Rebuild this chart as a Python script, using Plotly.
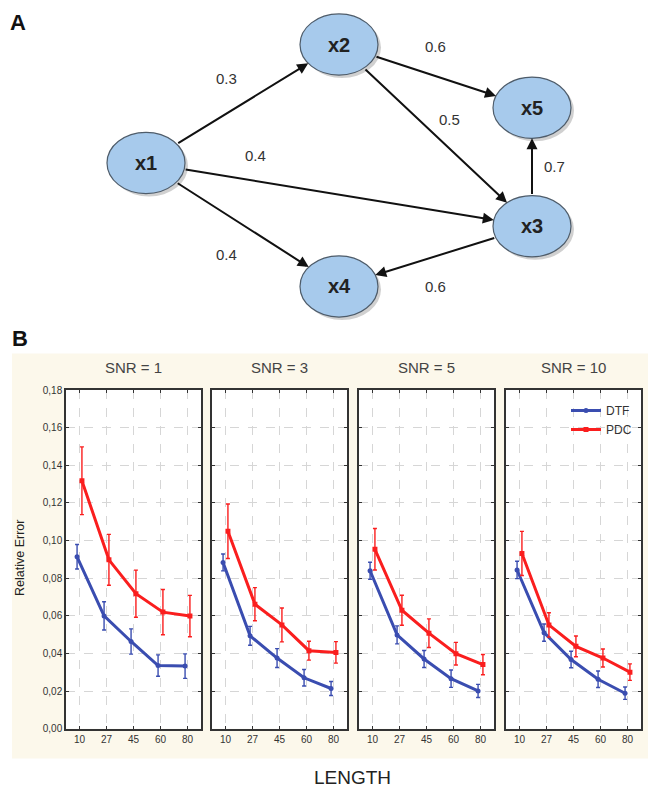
import math
import plotly.graph_objects as go

# ---------------- data: panel B ----------------
lengths = ["10", "27", "45", "60", "80"]
snr_levels = [1, 3, 5, 10]

dtf_snr1 = [0.0914, 0.0600, 0.0464, 0.0336, 0.0333]
dtf_snr3 = [0.0884, 0.0494, 0.0376, 0.0271, 0.0214]
dtf_snr5 = [0.0840, 0.0499, 0.0371, 0.0266, 0.0201]
dtf_snr10 = [0.0844, 0.0511, 0.0368, 0.0263, 0.0189]

dtf_err_snr1 = [0.0065, 0.0075, 0.0067, 0.0057, 0.0065]
dtf_err_snr3 = [0.0045, 0.0050, 0.0050, 0.0044, 0.0037]
dtf_err_snr5 = [0.0045, 0.0048, 0.0045, 0.0046, 0.0035]
dtf_err_snr10 = [0.0046, 0.0046, 0.0044, 0.0044, 0.0033]

pdc_snr1 = [0.1318, 0.0898, 0.0718, 0.0620, 0.0599]
pdc_snr3 = [0.1050, 0.0662, 0.0552, 0.0415, 0.0406]
pdc_snr5 = [0.0954, 0.0630, 0.0508, 0.0399, 0.0341]
pdc_snr10 = [0.0932, 0.0552, 0.0438, 0.0376, 0.0301]

pdc_err_snr1 = [0.0180, 0.0135, 0.0125, 0.0120, 0.0110]
pdc_err_snr3 = [0.0145, 0.0088, 0.0090, 0.0050, 0.0057]
pdc_err_snr5 = [0.0110, 0.0080, 0.0076, 0.0060, 0.0054]
pdc_err_snr10 = [0.0117, 0.0065, 0.0055, 0.0048, 0.0044]

y_ticks = [0.00, 0.02, 0.04, 0.06, 0.08, 0.10, 0.12, 0.14, 0.16, 0.18]

# ---------------- data: panel A (network) ----------------
node_names = ["x1", "x2", "x3", "x4", "x5"]
node_x = [146, 339, 532, 339, 532]
node_y = [160, 40, 224, 285, 104]
edge_src = ["x1", "x2", "x2", "x1", "x3", "x1", "x3"]
edge_dst = ["x2", "x5", "x3", "x3", "x5", "x4", "x4"]
edge_weight = ["0.3", "0.6", "0.5", "0.4", "0.7", "0.4", "0.6"]

# ---------------- figure ----------------
W, H = 652, 795
FONT = "Liberation Sans, Arial, sans-serif"
BLUE = "#3a4db0"
RED = "#fa1e1e"

def px(x):
    return x / W

def py(y):
    return 1 - y / H

fig = go.Figure()

box_left = [66, 212, 359, 506]
box_w = 135
box_top, box_bottom = 390, 733

dtf_all = [dtf_snr1, dtf_snr3, dtf_snr5, dtf_snr10]
dtf_err_all = [dtf_err_snr1, dtf_err_snr3, dtf_err_snr5, dtf_err_snr10]
pdc_all = [pdc_snr1, pdc_snr3, pdc_snr5, pdc_snr10]
pdc_err_all = [pdc_err_snr1, pdc_err_snr3, pdc_err_snr5, pdc_err_snr10]

dodge = 0.09
idx = list(range(len(lengths)))

shapes = []
# beige background behind panel B
shapes.append(dict(type="rect", xref="paper", yref="paper", x0=px(12), x1=px(648),
                   y0=py(763), y1=py(353), fillcolor="#fcf8eb", line=dict(width=0), layer="below"))

for i, snr in enumerate(snr_levels):
    sfx = "" if i == 0 else str(i + 1)
    show = (i == 3)
    fig.add_trace(go.Scatter(
        x=[k - dodge for k in idx], y=dtf_all[i],
        error_y=dict(type="data", array=dtf_err_all[i], color=BLUE, thickness=1.4, width=2),
        mode="lines+markers", name="DTF", legendgroup="DTF", showlegend=show,
        line=dict(color=BLUE, width=3), marker=dict(symbol="circle", size=5, color=BLUE),
        xaxis="x" + sfx, yaxis="y" + sfx))
    fig.add_trace(go.Scatter(
        x=[k + dodge for k in idx], y=pdc_all[i],
        error_y=dict(type="data", array=pdc_err_all[i], color=RED, thickness=1.4, width=2),
        mode="lines+markers", name="PDC", legendgroup="PDC", showlegend=show,
        line=dict(color=RED, width=3), marker=dict(symbol="square", size=5, color=RED),
        xaxis="x" + sfx, yaxis="y" + sfx))

    xa = dict(
        domain=[px(box_left[i]), px(box_left[i] + box_w)],
        range=[-0.5, len(lengths) - 0.5],
        tickvals=idx, ticktext=lengths,
        ticks="inside", ticklen=3, tickcolor="#333", mirror="ticks",
        showline=True, linecolor="#333", linewidth=1.5,
        showgrid=True, gridcolor="#d6d6d6", griddash="dash", gridwidth=1,
        zeroline=False, tickfont=dict(size=10, color="#333", family=FONT),
        anchor="y" + sfx, fixedrange=True,
    )
    ya = dict(
        domain=[py(box_bottom), py(box_top)],
        range=[0, 0.18], tickvals=y_ticks, tickformat=".2f",
        ticks="inside", ticklen=3, tickcolor="#333", mirror="ticks",
        showline=True, linecolor="#333", linewidth=1.5,
        showgrid=True, gridcolor="#d6d6d6", griddash="dash", gridwidth=1,
        zeroline=False, showticklabels=(i == 0),
        tickfont=dict(size=10, color="#333", family=FONT),
        anchor="x" + sfx, fixedrange=True,
    )
    fig.layout["xaxis" + sfx] = xa
    fig.layout["yaxis" + sfx] = ya

    # white plot area over the beige band
    shapes.append(dict(type="rect", xref="x" + sfx + " domain", yref="y" + sfx + " domain",
                       x0=0, x1=1, y0=0, y1=1, fillcolor="white", line=dict(width=0), layer="below"))

    fig.add_annotation(text=f"SNR = {snr}", xref="paper", yref="paper",
                       x=px(box_left[i] + box_w / 2), y=py(367), showarrow=False,
                       xanchor="center", yanchor="middle",
                       font=dict(size=15, color="#444", family=FONT))

# network axes (pixel-like coordinates)
fig.layout["xaxis5"] = dict(domain=[0, 1], range=[0, W], visible=False, anchor="y5", fixedrange=True)
fig.layout["yaxis5"] = dict(domain=[py(325), 1], range=[325, 0], visible=False, anchor="x5", fixedrange=True)

rx, ry = 39, 31
pos = {n: (node_x[k], node_y[k]) for k, n in enumerate(node_names)}

for n in node_names:
    cx, cy = pos[n]
    shapes.append(dict(type="circle", xref="x5", yref="y5", x0=cx - rx + 3, x1=cx + rx + 3,
                       y0=cy - ry + 3, y1=cy + ry + 3, fillcolor="rgba(120,120,120,0.35)",
                       line=dict(width=0), layer="above"))
    shapes.append(dict(type="circle", xref="x5", yref="y5", x0=cx - rx, x1=cx + rx,
                       y0=cy - ry, y1=cy + ry, fillcolor="#a7caec",
                       line=dict(color="#4e5c6a", width=1.2), layer="above"))
    fig.add_annotation(text=f"<b>{n}</b>", xref="x5", yref="y5", x=cx, y=cy, showarrow=False,
                       xanchor="center", yanchor="middle",
                       font=dict(size=20, color="#222", family=FONT))

def boundary(c, d):
    (cx, cy), (dx, dy) = c, d
    vx, vy = dx - cx, dy - cy
    t = 1 / math.sqrt((vx / rx) ** 2 + (vy / ry) ** 2)
    return cx + vx * t, cy + vy * t

# label placement (offset from edge midpoint, pixels)
label_shift = [(-16, -26), (0, -30), (14, -16), (-84, -40), (22, 0), (-16, 30), (0, 31)]

for k in range(len(edge_src)):
    a, b = pos[edge_src[k]], pos[edge_dst[k]]
    tx, ty = boundary(a, b)
    hx, hy = boundary(b, a)
    fig.add_annotation(x=hx, y=hy, ax=tx, ay=ty, xref="x5", yref="y5", axref="x5", ayref="y5",
                       showarrow=True, arrowhead=2, arrowsize=1.1, arrowwidth=2,
                       arrowcolor="#111", text="", standoff=0)
    mx, my = (a[0] + b[0]) / 2, (a[1] + b[1]) / 2
    fig.add_annotation(text=edge_weight[k], xref="x5", yref="y5",
                       x=mx + label_shift[k][0], y=my + label_shift[k][1], showarrow=False,
                       xanchor="center", yanchor="middle",
                       font=dict(size=15, color="#333", family=FONT))

# panel letters and axis labels
def paper_text(text, x, y, size, angle=0, color="#111"):
    fig.add_annotation(text=text, xref="paper", yref="paper", x=px(x), y=py(y),
                       showarrow=False, xanchor="center", yanchor="middle", textangle=angle,
                       font=dict(size=size, color=color, family=FONT))

paper_text("<b>A</b>", 18, 18, 22)
paper_text("<b>B</b>", 20, 338, 22)
paper_text("Relative Error", 20, 560, 12.5, angle=-90, color="#222")
paper_text("LENGTH", 352, 782, 19, color="#222")

fig.update_layout(
    width=W, height=H, margin=dict(l=0, r=0, t=0, b=0),
    paper_bgcolor="white", plot_bgcolor="rgba(0,0,0,0)",
    separators=",.",
    shapes=shapes,
    font=dict(family=FONT),
    legend=dict(x=px(566), y=py(396), xanchor="left", yanchor="top",
                bgcolor="rgba(0,0,0,0)", font=dict(size=12, color="#333", family=FONT),
                itemwidth=30, tracegroupgap=0),
)

fig.write_html("out.html", config={"displayModeBar": False},
               post_script="document.body.style.margin='0';")
